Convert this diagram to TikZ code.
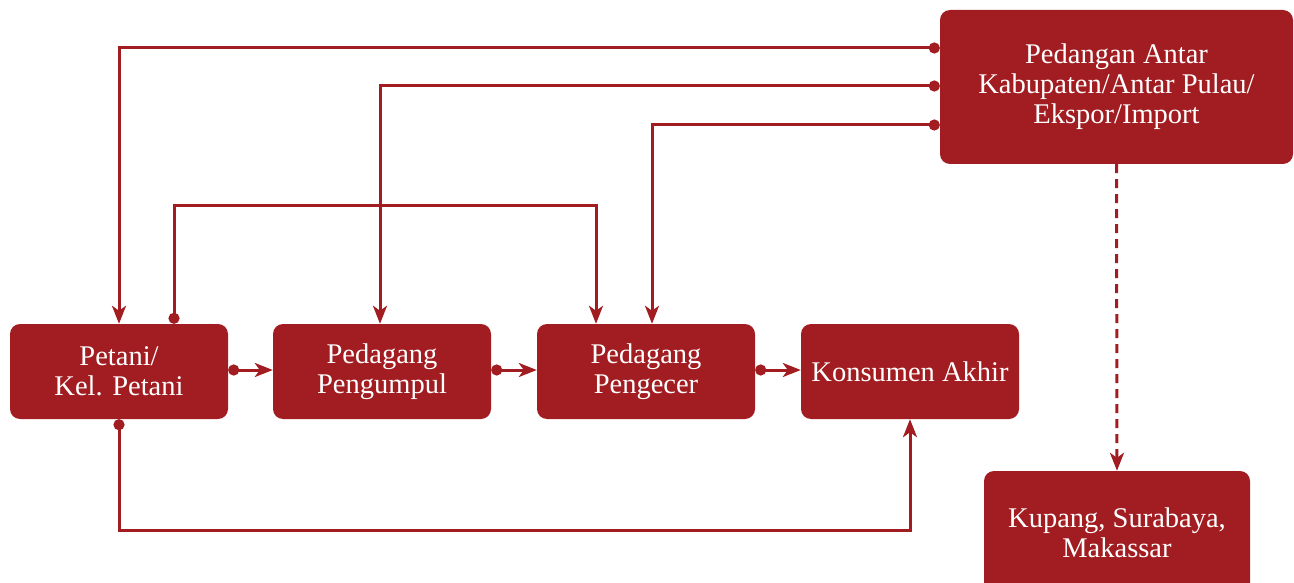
\documentclass[tikz,border=0pt]{standalone}
\usepackage{fontspec}
\setmainfont{Liberation Serif}
\usetikzlibrary{arrows.meta}
\definecolor{dred}{HTML}{A11D21}
\tikzset{
 box/.style={draw=none,fill=dred,rounded corners=10pt,text=white,align=center,
   font=\fontsize{28.5}{30}\selectfont,inner sep=0pt},
 conn/.style={draw=dred,line width=3pt,-{Stealth[length=18pt,width=14pt,inset=5pt]}},
 dotconn/.style={conn,{Circle[length=11pt,width=11pt]}-{Stealth[length=18pt,width=14pt,inset=5pt]}},
 dashconn/.style={conn,dash pattern=on 9pt off 6pt}
}
\begin{document}
\begin{tikzpicture}[x=1pt,y=-1pt]
\useasboundingbox (0,0) rectangle (1294,583);
\node[box,minimum width=218pt,minimum height=95pt] (pet) at (119,371.5) {Petani/\\Kel. Petani};
\node[box,minimum width=218pt,minimum height=95pt] (pgm) at (382,371.5) {Pedagang\\Pengumpul};
\node[box,minimum width=218pt,minimum height=95pt] (pgc) at (646,371.5) {Pedagang\\Pengecer};
\node[box,minimum width=218pt,minimum height=95pt] (kon) at (910,371.5) {Konsumen Akhir};
\node[box,minimum width=353pt,minimum height=154pt] (ped) at (1116.5,87) {Pedangan Antar\\Kabupaten/Antar Pulau/\\Ekspor/Import};
\node[box,minimum width=266pt,minimum height=124pt] (kup) at (1117,533) {Kupang, Surabaya,\\Makassar};

\draw[dotconn] ([yshift=39pt]ped.west) -| (pet.north);
\draw[dotconn] ([yshift=1pt]ped.west) -| ([xshift=-2pt]pgm.north);
\draw[dotconn] ([yshift=-38pt]ped.west) -| ([xshift=6pt]pgc.north);
\draw[dotconn] ([xshift=55pt]pet.north) -- ([xshift=55pt]pet.north |- 0,206) -| ([xshift=-50pt]pgc.north);
\draw[dotconn] ([yshift=1.5pt]pet.east) -- ([yshift=1.5pt]pgm.west);
\draw[dotconn] ([yshift=1.5pt]pgm.east) -- ([yshift=1.5pt]pgc.west);
\draw[dotconn] ([yshift=1.5pt]pgc.east) -- ([yshift=1.5pt]kon.west);
\draw[dotconn] (pet.south) -- (pet.south |- 0,530) -| (kon.south);
\draw[dashconn] (ped.south) -- (kup.north);
\end{tikzpicture}
\end{document}
